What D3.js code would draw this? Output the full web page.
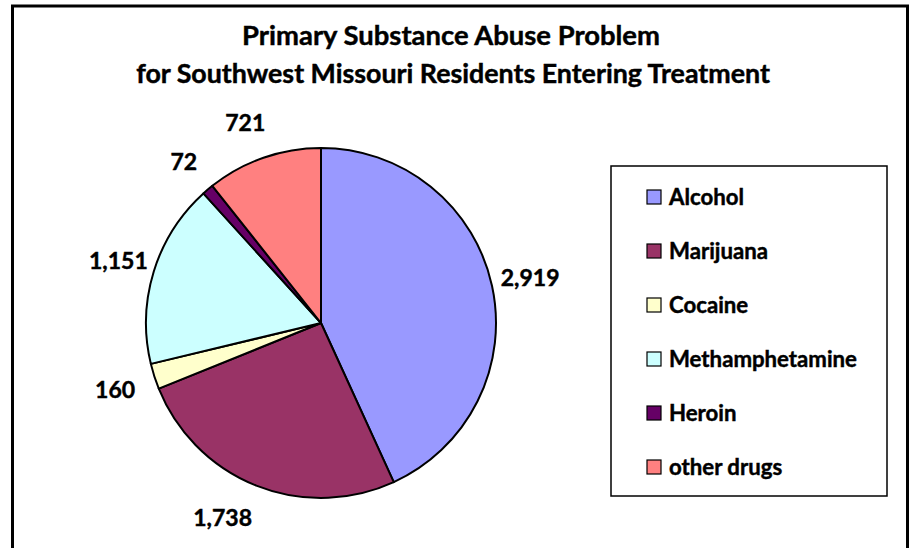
<!DOCTYPE html>
<html>
<head>
<meta charset="utf-8">
<script src="https://cdn.jsdelivr.net/npm/d3@7"></script>
<style>
  html, body { margin: 0; padding: 0; background: #fff; }
  svg { display: block; }
  text { font-family: Lato, "Open Sans", "Liberation Sans", sans-serif; font-weight: bold; fill: #000; stroke: #000; stroke-width: 0.45px; }
</style>
</head>
<body>
<svg id="chart" width="913" height="548"></svg>
<script>
const categories = ["Alcohol", "Marijuana", "Cocaine", "Methamphetamine", "Heroin", "other drugs"];
const values = [2919, 1738, 160, 1151, 72, 721];
const colors = ["#9999FF", "#993366", "#FFFFCC", "#CCFFFF", "#660066", "#FF8080"];
const titleLines = ["Primary Substance Abuse Problem", "for Southwest Missouri Residents Entering Treatment"];

const svg = d3.select("#chart");

// outer frame
svg.append("rect").attr("x", 12.5).attr("y", 6).attr("width", 895).attr("height", 570)
  .attr("fill", "#fff").attr("stroke", "#000").attr("stroke-width", 3);

function fitWidth(sel, target) {
  const w = sel.node().getComputedTextLength();
  const fs = parseFloat(sel.attr("font-size"));
  sel.attr("font-size", (fs * target / w).toFixed(2));
}

// title
const t1 = svg.append("text").attr("x", 451).attr("y", 45).attr("text-anchor", "middle")
  .attr("font-size", 24).text(titleLines[0]);
fitWidth(t1, 418);
const t2 = svg.append("text").attr("x", 453).attr("y", 83).attr("text-anchor", "middle")
  .attr("font-size", 24).text(titleLines[1]);
fitWidth(t2, 634);

// pie
const cx = 321, cy = 323, R = 175;
const pie = d3.pie().sort(null).value(d => d)(values);
const arc = d3.arc().innerRadius(0).outerRadius(R);
const labelArc = d3.arc().innerRadius(212).outerRadius(212);
const fmt = d3.format(",");

const g = svg.append("g").attr("transform", `translate(${cx},${cy})`);
g.selectAll("path.slice").data(pie).join("path")
  .attr("class", "slice")
  .attr("d", arc)
  .attr("fill", (d, i) => colors[i])
  .attr("stroke", "#000").attr("stroke-width", 2).attr("stroke-linejoin", "round");

const nudge = [[2, 0], [-20, -2], [-4, 2], [0, 0], [0, 0], [-6, 0]];
g.selectAll("text.lbl").data(pie).join("text")
  .attr("class", "lbl")
  .attr("transform", (d, i) => {
    const c = labelArc.centroid(d);
    return `translate(${c[0] + nudge[i][0]},${c[1] + nudge[i][1]})`;
  })
  .attr("text-anchor", "middle").attr("dy", "0.36em")
  .attr("font-size", 23)
  .text(d => fmt(d.data));

// legend
const lg = svg.append("g");
lg.append("rect").attr("x", 611).attr("y", 166).attr("width", 276).attr("height", 330)
  .attr("fill", "#fff").attr("stroke", "#000").attr("stroke-width", 1.5);
const ly = d3.scalePoint().domain(categories).range([197, 467]);
const items = lg.selectAll("g.item").data(categories).join("g").attr("class", "item")
  .attr("transform", d => `translate(647,${ly(d)})`);
items.append("rect").attr("x", 0).attr("y", -7).attr("width", 14).attr("height", 14)
  .attr("fill", (d, i) => colors[i]).attr("stroke", "#000").attr("stroke-width", 1.2);
const ltexts = items.append("text").attr("x", 22).attr("dy", "0.36em").attr("font-size", 21).text(d => d);
const longest = ltexts.filter(d => d === "Methamphetamine");
const w0 = longest.node().getComputedTextLength();
ltexts.attr("font-size", (21 * 188 / w0).toFixed(2));
</script>
</body>
</html>
